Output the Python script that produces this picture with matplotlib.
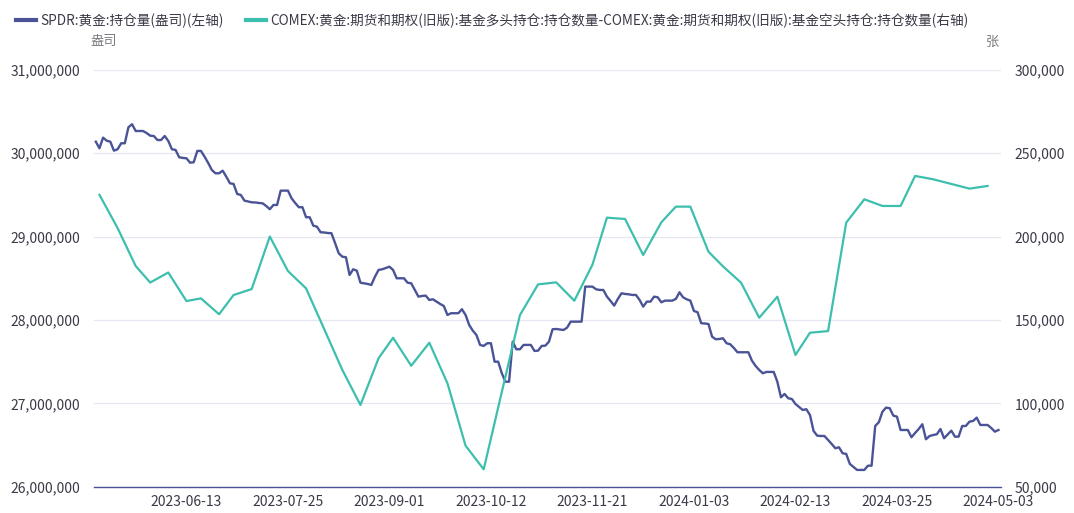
import numpy as np
import pandas as pd
import matplotlib
matplotlib.use("Agg")
import matplotlib.pyplot as plt
from matplotlib.lines import Line2D
from matplotlib.ticker import FuncFormatter, MultipleLocator
from pandas.tseries.offsets import CustomBusinessDay

plt.rcParams['font.family'] = ['Noto Sans CJK SC', 'DejaVu Sans']

# ---------------- data ----------------
holidays = ["2023-05-29", "2023-06-19", "2023-07-04", "2023-09-04", "2023-11-23",
            "2023-12-25", "2024-01-01", "2024-01-15", "2024-02-19", "2024-03-29"]
start_date = "2023-05-08"

spdr_label = "SPDR:黄金:持仓量(盎司)(左轴)"
comex_label = ("COMEX:黄金:期货和期权(旧版):基金多头持仓:持仓数量-"
               "COMEX:黄金:期货和期权(旧版):基金空头持仓:持仓数量(右轴)")

spdr = [
    30137000, 30058000, 30185000, 30149000, 30137000, 30029000, 30046000, 30118000, 30118000, 30310000,
    30346000, 30265000, 30265000, 30265000, 30241000, 30209000, 30205000, 30157000, 30157000, 30205000,
    30145000, 30046000, 30038000, 29950000, 29942000, 29938000, 29885000, 29890000, 30026000, 30026000,
    29957000, 29882000, 29798000, 29758000, 29758000, 29789000, 29717000, 29638000, 29630000, 29510000,
    29498000, 29430000, 29420000, 29410000, 29408000, 29402000, 29398000, 29366000, 29327000, 29378000,
    29378000, 29550000, 29550000, 29550000, 29458000, 29402000, 29351000, 29351000, 29231000, 29231000,
    29130000, 29118000, 29051000, 29048000, 29042000, 29039000, 28922000, 28799000, 28758000, 28751000,
    28539000, 28607000, 28590000, 28446000, 28439000, 28431000, 28419000, 28518000, 28599000, 28607000,
    28623000, 28638000, 28599000, 28499000, 28499000, 28499000, 28446000, 28439000, 28359000, 28279000,
    28287000, 28291000, 28239000, 28247000, 28219000, 28191000, 28167000, 28059000, 28080000, 28080000,
    28080000, 28128000, 28059000, 27939000, 27871000, 27819000, 27700000, 27688000, 27720000, 27720000,
    27499000, 27499000, 27360000, 27259000, 27259000, 27739000, 27648000, 27648000, 27700000, 27700000,
    27700000, 27628000, 27631000, 27688000, 27691000, 27739000, 27888000, 27891000, 27885000, 27879000,
    27907000, 27979000, 27979000, 27979000, 27979000, 28399000, 28399000, 28399000, 28367000, 28359000,
    28359000, 28279000, 28227000, 28171000, 28251000, 28319000, 28311000, 28307000, 28299000, 28299000,
    28239000, 28159000, 28219000, 28219000, 28279000, 28271000, 28211000, 28231000, 28231000, 28231000,
    28251000, 28331000, 28271000, 28247000, 28231000, 28107000, 28092000, 27960000, 27957000, 27951000,
    27799000, 27768000, 27771000, 27780000, 27720000, 27708000, 27664000, 27612000, 27612000, 27612000,
    27612000, 27511000, 27448000, 27400000, 27360000, 27376000, 27376000, 27376000, 27259000, 27072000,
    27112000, 27060000, 27052000, 26992000, 26956000, 26920000, 26929000, 26860000, 26668000, 26612000,
    26608000, 26608000, 26560000, 26512000, 26461000, 26473000, 26401000, 26393000, 26273000, 26237000,
    26201000, 26201000, 26201000, 26252000, 26252000, 26728000, 26773000, 26900000, 26948000, 26941000,
    26852000, 26840000, 26680000, 26680000, 26680000, 26593000, 26644000, 26692000, 26749000, 26569000,
    26608000, 26620000, 26629000, 26692000, 26581000, 26626000, 26672000, 26600000, 26600000, 26728000,
    26728000, 26780000, 26788000, 26828000, 26740000, 26740000, 26740000, 26704000, 26660000, 26680000,
]

comex_dates = [
    "2023-05-09", "2023-05-16", "2023-05-23", "2023-05-30", "2023-06-06", "2023-06-13",
    "2023-06-20", "2023-06-27", "2023-07-03", "2023-07-11", "2023-07-18", "2023-07-25",
    "2023-08-01", "2023-08-08", "2023-08-15", "2023-08-22", "2023-08-29", "2023-09-05",
    "2023-09-12", "2023-09-19", "2023-09-26", "2023-10-03", "2023-10-10", "2023-10-17",
    "2023-10-24", "2023-10-31", "2023-11-07", "2023-11-14", "2023-11-21", "2023-11-28",
    "2023-12-05", "2023-12-12", "2023-12-19", "2023-12-26", "2024-01-02", "2024-01-09",
    "2024-01-16", "2024-01-23", "2024-01-30", "2024-02-06", "2024-02-13", "2024-02-20",
    "2024-02-27", "2024-03-05", "2024-03-12", "2024-03-19", "2024-03-26", "2024-04-02",
    "2024-04-09", "2024-04-16", "2024-04-23", "2024-04-30",
]
comex_vals = [
    225000, 205100, 182300, 172400, 178400, 161300,
    162900, 153400, 164900, 168500, 200000, 179300,
    168900, 144500, 120000, 99000, 127000, 139300,
    122500, 136300, 112000, 74600, 60400, 106800,
    152900, 171300, 172500, 161500, 183100, 211300,
    210500, 188900, 208500, 217900, 217900, 190900,
    182100, 172300, 151300, 163900, 129000, 142300,
    143300, 208300, 222300, 218300, 218300, 236300,
    234300, 231500, 228700, 230300,
]

tick_labels = ["2023-06-13", "2023-07-25", "2023-09-01", "2023-10-12", "2023-11-21",
               "2024-01-03", "2024-02-13", "2024-03-25", "2024-05-03"]

# ---------------- build axis ----------------
trade_days = pd.date_range(start=start_date, periods=len(spdr),
                           freq=CustomBusinessDay(holidays=holidays))
day_str = trade_days.strftime("%Y-%m-%d").tolist()
x = np.arange(len(spdr))
cx = [day_str.index(d) for d in comex_dates]
tick_pos = [day_str.index(d) for d in tick_labels]

c_spdr = "#4a5396"
c_comex = "#3dbfae"
c_grid = "#e6e7f1"
c_text = "#3a3a48"

fig = plt.figure(figsize=(10.74, 5.13), dpi=100)
ax = fig.add_axes([94 / 1074, 1 - 486.7 / 513, (1001 - 94) / 1074, (486.7 - 69.7) / 513])
ax2 = ax.twinx()

ax.plot(x, spdr, color=c_spdr, lw=1.7, solid_joinstyle='round', zorder=3)
ax2.plot(cx, comex_vals, color=c_comex, lw=1.6, solid_joinstyle='round', zorder=3)

ax.set_xlim(-0.5, len(spdr) - 0.3)
ax.set_ylim(26000000, 31000000)
ax2.set_ylim(50000, 300000)
ax.yaxis.set_major_locator(MultipleLocator(1000000))
ax2.yaxis.set_major_locator(MultipleLocator(50000))
fmt = FuncFormatter(lambda v, p: f"{int(round(v)):,}")
ax.yaxis.set_major_formatter(fmt)
ax2.yaxis.set_major_formatter(fmt)

ax.set_xticks(tick_pos)
ax.set_xticklabels(tick_labels)

ax.grid(axis='y', color=c_grid, lw=0.9)
ax.set_axisbelow(True)
for a in (ax, ax2):
    for s in a.spines.values():
        s.set_visible(False)
    a.tick_params(length=0, labelsize=10, labelcolor=c_text)
ax.spines['bottom'].set_visible(True)
ax.spines['bottom'].set_color(c_spdr)
ax.spines['bottom'].set_linewidth(1.0)
ax.tick_params(axis='y', pad=10)
ax2.tick_params(axis='y', pad=10)
ax.tick_params(axis='x', pad=6)

# units
fig.text(104 / 1074, 1 - 42 / 513, "盎司", ha='center', va='center', fontsize=9.5, color="#7a7a80")
fig.text(992 / 1074, 1 - 42 / 513, "张", ha='center', va='center', fontsize=9.5, color="#7a7a80")

# legend
handles = [Line2D([], [], color=c_spdr, lw=3), Line2D([], [], color=c_comex, lw=3)]
fig.legend(handles, [spdr_label, comex_label], loc='upper left',
           bbox_to_anchor=(8 / 1074, 1 - 5 / 513), ncol=2, frameon=False,
           fontsize=9.8, handlelength=1.45, handletextpad=0.35, columnspacing=1.6,
           labelcolor=c_text, borderaxespad=0.2)

fig.savefig("out.png", dpi=100)
